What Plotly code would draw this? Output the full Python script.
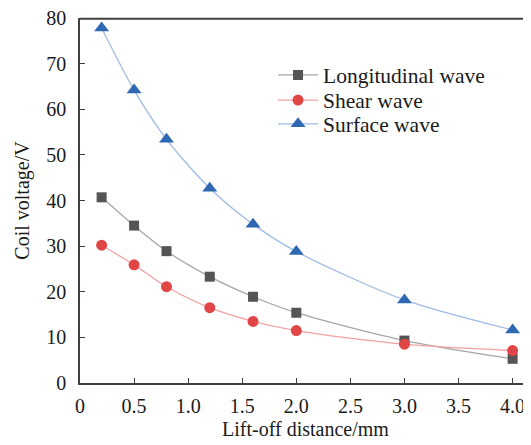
import plotly.graph_objects as go

x = [0.2, 0.5, 0.8, 1.2, 1.6, 2.0, 3.0, 4.0]
longitudinal = [40.7, 34.5, 28.9, 23.3, 18.9, 15.4, 9.3, 5.3]
shear = [30.2, 25.9, 21.1, 16.5, 13.5, 11.5, 8.5, 7.1]
surface = [77.8, 64.2, 53.4, 42.7, 34.8, 28.8, 18.2, 11.6]
names = ["Longitudinal wave", "Shear wave", "Surface wave"]
x_ticks = [0, 0.5, 1.0, 1.5, 2.0, 2.5, 3.0, 3.5, 4.0]
x_tick_text = ["0", "0.5", "1.0", "1.5", "2.0", "2.5", "3.0", "3.5", "4.0"]
y_ticks = [0, 10, 20, 30, 40, 50, 60, 70, 80]

font = "Liberation Serif, Times New Roman, serif"
fig = go.Figure()
styles = [
    (longitudinal, "#a6a6a6", "#555555", "square", 10, "legend"),
    (shear, "#f2a2a2", "#e04646", "circle", 11, "legend2"),
    (surface, "#9dbbe3", "#2e67b2", "triangle-up", 13, "legend3"),
]
for name, (vals, lc, mc, sym, sz, lg) in zip(names, styles):
    fig.add_trace(go.Scatter(
        x=x, y=vals, name=name, mode="lines+markers", legend=lg,
        line=dict(color=lc, width=1.3, shape="spline", smoothing=0.8),
        marker=dict(symbol=sym, size=sz, color=mc),
    ))

def leg(yc):
    return dict(x=0.428, y=yc, xanchor="left", yanchor="middle",
                bgcolor="rgba(0,0,0,0)", font=dict(size=21.5, family=font),
                borderwidth=0, itemwidth=40)

fig.update_layout(
    width=523, height=437,
    margin=dict(l=72, r=0, t=10, b=62),
    paper_bgcolor="white", plot_bgcolor="white",
    font=dict(family=font, size=20, color="#1a1a1a"),
    showlegend=True,
    legend=leg(0.844), legend2=leg(0.775), legend3=leg(0.710),
    shapes=[dict(type="line", xref="paper", yref="paper", x0=0, x1=1,
                 y0=0.998, y1=0.998, layer="above",
                 line=dict(color="#404040", width=2))],
    xaxis=dict(range=[0, 4.17], tickvals=x_ticks, ticktext=x_tick_text,
               showline=True, linecolor="#404040", linewidth=1.5, mirror=False,
               ticks="inside", ticklen=5, tickcolor="#404040", showgrid=False,
               zeroline=False, automargin=False, ticklabelstandoff=4,
               ticklabeloverflow="allow",
               tickfont=dict(size=20, family=font),
               title=dict(text="Lift-off distance/mm", standoff=6,
                          font=dict(size=20, family=font))),
    yaxis=dict(range=[0, 80], tickvals=y_ticks,
               showline=True, linecolor="#404040", linewidth=1.5,
               ticks="inside", ticklen=5, tickcolor="#404040", showgrid=False,
               zeroline=False, automargin=False, ticklabelstandoff=8,
               ticklabeloverflow="allow",
               tickfont=dict(size=20, family=font),
               title=dict(text="Coil voltage/V", standoff=11,
                          font=dict(size=20, family=font))),
)
fig.write_html("out.html")
